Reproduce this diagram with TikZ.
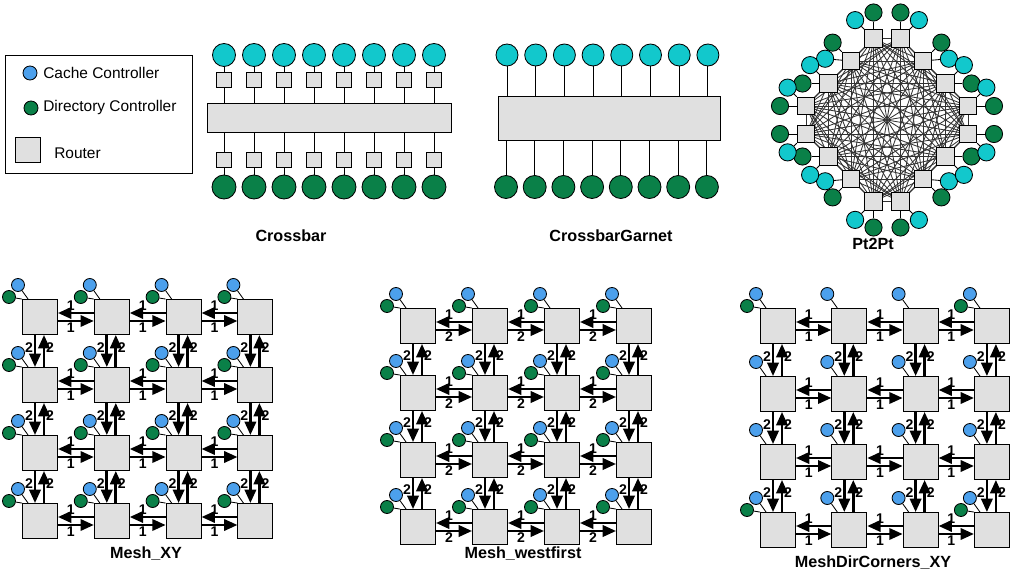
\documentclass[tikz,border=0pt]{standalone}
\usepackage{fontspec}
\setmainfont{Liberation Sans}
\usetikzlibrary{arrows.meta}
\usetikzlibrary{calc,positioning}

\definecolor{cacheblue}{RGB}{76,160,236}
\definecolor{dirgreen}{RGB}{10,128,72}
\definecolor{endcyan}{RGB}{18,200,204}
\definecolor{routergray}{RGB}{224,224,224}

\newcommand{\allsites}{0/0,0/1,0/2,0/3,1/0,1/1,1/2,1/3,2/0,2/1,2/2,2/3,3/0,3/1,3/2,3/3}

% #1 name, #2/#3 first router, #4/#5 step, #6 lower label, #7 routers with a directory
\newcommand{\meshnet}[7]{%
    \foreach \i in {0,...,3} {
        \foreach \j in {0,...,3} {
            \node[meshrouter] (#1-\i-\j) at ({#2+\i*#4},{#3+\j*#5}) {};
            \node[cachenode, minimum size=0.325cm] (#1-c-\i-\j) at ($(#1-\i-\j)+(-22,-32)$) {};
            \draw[wire] (#1-c-\i-\j) -- ($(#1-\i-\j.north west)+(6,0)$);
        }
    }
    \foreach \i/\j in #7 {
        \node[dirnode, minimum size=0.325cm] (#1-d-\i-\j) at ($(#1-\i-\j)+(-31,-20)$) {};
        \draw[wire] (#1-d-\i-\j) -- (#1-\i-\j.north west);
    }
    \foreach \j in {0,...,3} {
        \foreach \i [evaluate=\i as \ii using int(\i+1)] in {0,1,2} {
            \draw[link] ($(#1-\ii-\j.west)+(0,-4)$) -- node[num, above, pos=0.64] {1} ($(#1-\i-\j.east)+(0,-4)$);
            \draw[link] ($(#1-\i-\j.east)+(0,4)$) -- node[num, below, pos=0.36] {#6} ($(#1-\ii-\j.west)+(0,4)$);
        }
    }
    \foreach \i in {0,...,3} {
        \foreach \j [evaluate=\j as \jj using int(\j+1)] in {0,1,2} {
            \draw[link] ($(#1-\i-\j.south)+(-5,0)$) -- node[num, left, pos=0.38] {2} ($(#1-\i-\jj.north)+(-5,0)$);
            \draw[link] ($(#1-\i-\jj.north)+(4,0)$) -- node[num, right, pos=0.62] {2} ($(#1-\i-\j.south)+(4,0)$);
        }
    }
}

\begin{document}
\begin{tikzpicture}[
    x=0.025cm, y=-0.025cm,
    wire/.style={black, line width=0.6pt},
    meshwire/.style={black!80, line width=0.6pt},
    link/.style={black, line width=1.9pt, -{Triangle[length=9.5pt,width=8pt]}},
    num/.style={font=\fontsize{10}{11}\selectfont\bfseries, inner sep=0.6pt},
    title/.style={font=\fontsize{11.5}{13}\selectfont\bfseries},
    legtext/.style={font=\fontsize{11}{13}\selectfont, anchor=west, inner sep=0pt},
    box/.style={draw, line width=0.6pt, fill=routergray, inner sep=0pt},
    meshrouter/.style={box, minimum size=0.875cm},
    smallrouter/.style={box, minimum size=0.39cm},
    ptrouter/.style={box, minimum size=0.44cm},
    ball/.style={circle, draw, line width=0.6pt, inner sep=0pt},
    cachenode/.style={ball, fill=cacheblue},
    dirnode/.style={ball, fill=dirgreen},
    cyannode/.style={ball, fill=endcyan},
 ]
    \useasboundingbox (0,0) rectangle (1013,576);

    % legend
    \node[draw, line width=0.6pt, minimum width=4.675cm, minimum height=2.95cm] (legend) at (98.5,114) {};
    \node[cachenode, minimum size=0.35cm] (legcache) at (30,73) {};
    \node[legtext] (legcachet) at (43,73) {Cache Controller};
    \node[dirnode, minimum size=0.35cm] (legdir) at (31,108) {};
    \node[legtext] (legdirt) at (43,108) {Directory Controller};
    \node[box, minimum size=0.625cm] (legrouter) at (27.5,149.5) {};
    \node[legtext] (legroutert) at (54,153) {Router};

    % Crossbar
    \node[box, minimum width=6.1cm, minimum height=0.725cm] (xbar) at (329,117.5) {};
    \foreach \i in {0,...,7} {
        \node[cyannode, minimum size=0.575cm] (xtop\i) at (224+30*\i,55) {};
        \node[smallrouter] (xrt\i) at (224+30*\i,80) {};
        \node[smallrouter] (xrb\i) at (224+30*\i,160) {};
        \node[dirnode, minimum size=0.6cm] (xbot\i) at (224+30*\i,187) {};
        \draw[wire] (xtop\i) -- (xrt\i);
        \draw[wire] (xrt\i) -- (xrt\i |- xbar.north);
        \draw[wire] (xbar.south -| xrb\i) -- (xrb\i);
        \draw[wire] (xrb\i) -- (xbot\i);
    }
    \node[title] (xbarlabel) at (291,236) {Crossbar};

    % CrossbarGarnet
    \node[box, minimum width=5.55cm, minimum height=1.1cm] (gbar) at (609,118) {};
    \foreach \i in {0,...,7} {
        \node[cyannode, minimum size=0.55cm] (gtop\i) at (507+28.7*\i,55) {};
        \node[dirnode, minimum size=0.575cm] (gbot\i) at (506+28.7*\i,187) {};
        \draw[wire] (gtop\i) -- (gtop\i |- gbar.north);
        \draw[wire] (gbar.south -| gbot\i) -- (gbot\i);
    }
    \node[title] (gbarlabel) at (611,236) {CrossbarGarnet};

    % Pt2Pt
    \begin{scope}[shift={(887,120)}, y=0.025cm]
        \foreach \sx/\sy [count=\q from 0] in {1/1,-1/1,-1/-1,1/-1} {
            \foreach \k in {0,...,3} {
                \pgfmathtruncatemacro{\n}{\q*4+\k}
                \coordinate (ptc\n) at ({\sx*(13.5+22.5*\k)},{\sy*(81.5-22.5*\k)});
            }
        }
        \foreach \a in {0,...,15} {
            \foreach \b in {0,...,15} {
                \ifnum\a<\b \draw[meshwire] (ptc\a) -- (ptc\b); \fi
            }
        }
        \foreach \sx/\sy [count=\q from 0] in {1/1,-1/1,-1/-1,1/-1} {
            \foreach \k/\ga/\ca in {0/90/45,1/45/5,2/0/45,3/0/45} {
                \pgfmathtruncatemacro{\n}{\q*4+\k}
                \node[ptrouter] (pt\n) at (ptc\n) {};
                \node[dirnode, minimum size=0.43cm] (ptd\n) at ($(pt\n)+({\sx*26*cos(\ga)},{\sy*26*sin(\ga)})$) {};
                \node[cyannode, minimum size=0.43cm] (ptk\n) at ($(pt\n)+({\sx*26*cos(\ca)},{\sy*26*sin(\ca)})$) {};
                \draw[wire] (ptd\n) -- (pt\n);
                \draw[wire] (ptk\n) -- (pt\n);
            }
        }
    \end{scope}
    \node[title] (ptlabel) at (873,244) {Pt2Pt};

    % meshes
    \meshnet{xy}{40}{317}{71.8}{68}{1}{\allsites}
    \node[title] (xylabel) at (146,554) {Mesh\_XY};

    \meshnet{wf}{418}{326}{72}{67}{2}{\allsites}
    \node[title] (wflabel) at (523,554) {Mesh\_westfirst};

    \meshnet{dc}{778}{326}{71.3}{68}{1}{{0/0,3/0,0/3,3/3}}
    \node[title] (dclabel) at (873,563) {MeshDirCorners\_XY};

\end{tikzpicture}
\end{document}
